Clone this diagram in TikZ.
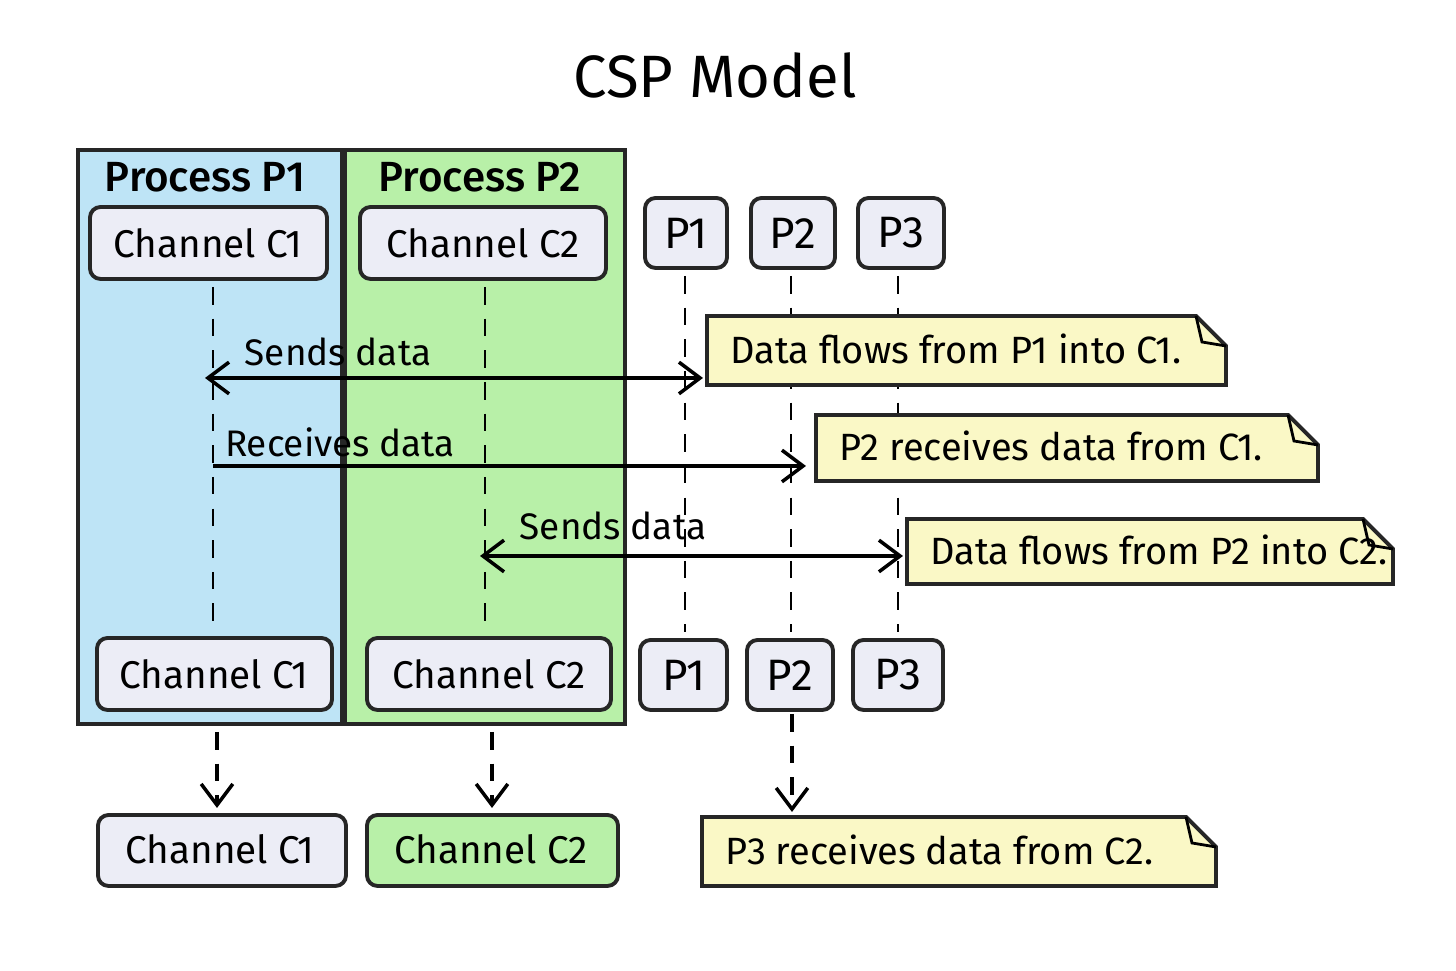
\documentclass[tikz,border=0pt]{standalone}
\usepackage{fontspec}
\setmainfont{Fira Sans}
\newfontfamily\semib{Fira Sans Medium}
\usetikzlibrary{arrows.meta}
\definecolor{pblue}{RGB}{190,228,246}
\definecolor{pgreen}{RGB}{184,240,168}
\definecolor{boxf}{RGB}{236,237,246}
\definecolor{notef}{RGB}{250,248,198}
\begin{document}
\begin{tikzpicture}[x=0.01cm,y=-0.01cm,line width=1.1pt,
  proc/.style={draw=black!85},
  box/.style={draw=black!85,fill=boxf,rounded corners=3pt},
  lbl/.style={font=\fontsize{11}{13}\selectfont},
  plbl/.style={font=\fontsize{12.5}{14}\selectfont},
  nlbl/.style={font=\fontsize{10.8}{13}\selectfont},
  mlbl/.style={font=\fontsize{10.5}{12}\selectfont},
  life/.style={dashed,line width=0.8pt,dash pattern=on 5pt off 4pt},
  arr/.style={-{Straight Barb[length=6pt,width=9pt]},line width=1pt},
  barr/.style={{Straight Barb[length=6pt,width=9pt]}-{Straight Barb[length=6pt,width=9pt]},line width=1pt}]
\useasboundingbox (0,0) rectangle (1456,971);
\node[font=\fontsize{17}{20}\selectfont] (title) at (715,75) {CSP Model};
% processes
\draw[proc,fill=pblue] (78,150) rectangle (342,724);
\draw[proc,fill=pgreen] (345,150) rectangle (625,724);
\node[font=\fontsize{12}{14}\semib] (pp1) at (205,177) {Process P1};
\node[font=\fontsize{12}{14}\semib] (pp2) at (480,177) {Process P2};
% top boxes
\draw[box] (90,207) rectangle (327,279); \node[lbl] (c1t) at (208,243) {Channel C1};
\draw[box] (360,207) rectangle (606,279); \node[lbl] (c2t) at (483,243) {Channel C2};
\draw[box] (645,198) rectangle (727,268); \node[plbl] (p1t) at (686,233) {P1};
\draw[box] (751,198) rectangle (835,268); \node[plbl] (p2t) at (793,233) {P2};
\draw[box] (858,198) rectangle (944,268); \node[plbl] (p3t) at (901,233) {P3};
% bottom boxes
\draw[box] (97,638) rectangle (332,710); \node[lbl] (c1b) at (214,674) {Channel C1};
\draw[box] (367,638) rectangle (611,710); \node[lbl] (c2b) at (489,674) {Channel C2};
\draw[box] (640,640) rectangle (727,710); \node[plbl] (p1b) at (684,675) {P1};
\draw[box] (747,640) rectangle (833,710); \node[plbl] (p2b) at (790,675) {P2};
\draw[box] (853,640) rectangle (943,710); \node[plbl] (p3b) at (898,675) {P3};
% lifelines
\coordinate (l1a) at (213,287); \coordinate (l1b) at (213,625);
\coordinate (l2a) at (485,287); \coordinate (l2b) at (485,625);
\coordinate (l3a) at (685,276); \coordinate (l3b) at (685,632);
\coordinate (l4a) at (791,276); \coordinate (l4b) at (791,632);
\coordinate (l5a) at (898,276); \coordinate (l5b) at (898,632);
\foreach \a/\b in {l1a/l1b,l2a/l2b,l3a/l3b,l4a/l4b,l5a/l5b} \draw[life] (\a) -- (\b);
% notes
\tikzset{note/.style={draw=black!85,fill=notef}}
\foreach \n/\xa/\ya/\xb/\yb/\t in {n1/707/316/1226/385/{Data flows from P1 into C1.},
  n2/816/415/1318/481/{P2 receives data from C1.},
  n3/907/519/1393/584/{Data flows from P2 into C2.},
  n4/702/817/1216/886/{P3 receives data from C2.}}{
  \draw[note] (\xa,\ya) -- (\xb-30,\ya) -- (\xb,\ya+30) -- (\xb,\yb) -- (\xa,\yb) -- cycle;
  \draw[line width=0.8pt] (\xb-30,\ya) -- (\xb-24,\ya+26) -- (\xb,\ya+30);
  \node[nlbl,anchor=west] (\n) at (\xa+10,{(\ya+\yb)/2-2}) {\t};
}
% messages
\coordinate (m1a) at (205,378); \coordinate (m1b) at (703,378);
\coordinate (m2a) at (213,466); \coordinate (m2b) at (806,466);
\coordinate (m3a) at (480,556); \coordinate (m3b) at (903,556);
\draw[barr] (m1a) -- (m1b);
\draw[arr] (m2a) -- (m2b);
\draw[barr] (m3a) -- (m3b);
\node[mlbl] (s1) at (338,352) {Sends data};
\node[mlbl] (r1) at (340,442) {Receives data};
\node[mlbl] (s2) at (613,526) {Sends data};
% final boxes
\draw[box] (98,815) rectangle (346,886); \node[lbl] (c1f) at (220,849) {Channel C1};
\draw[box,fill=pgreen] (367,815) rectangle (618,886); \node[lbl] (c2f) at (491,849) {Channel C2};
\coordinate (d1a) at (217,732); \coordinate (d1b) at (217,808);
\coordinate (d2a) at (492,732); \coordinate (d2b) at (492,808);
\coordinate (d3a) at (792,714); \coordinate (d3b) at (792,812);
\foreach \a/\b in {d1a/d1b,d2a/d2b,d3a/d3b} \draw[arr,dash pattern=on 5pt off 4pt] (\a) -- (\b);
\end{tikzpicture}
\end{document}
